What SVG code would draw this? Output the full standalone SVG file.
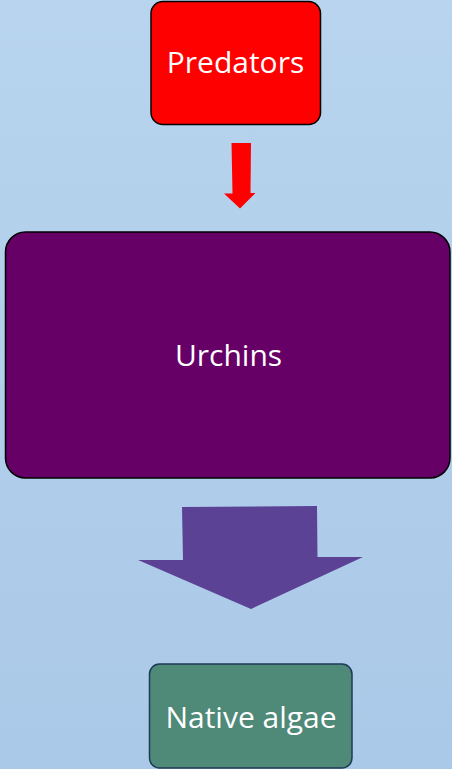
<svg xmlns="http://www.w3.org/2000/svg" width="452" height="769" viewBox="0 0 452 769">
<defs>
<linearGradient id="bg" x1="0" y1="0" x2="0" y2="1">
<stop offset="0" stop-color="#b8d4ee"/>
<stop offset="1" stop-color="#aac9e8"/>
</linearGradient>
</defs>
<style>
.lbl{font-family:"Open Sans","Noto Sans","Liberation Sans",sans-serif;font-size:30px;fill:#ffffff;text-anchor:middle;dominant-baseline:central}
</style>
<rect x="0" y="0" width="452" height="769" fill="url(#bg)"/>
<g id="connectors">
<polygon id="arrow1" points="231.5,143 251,143 250.5,193 255.5,193 240,208.5 224,193.5 232.5,193.5" fill="#ff0000"/>
<polygon id="arrow2" points="182,507 317,506 317.5,557 363,557 251,609 138,560 183,560" fill="#5b4295"/>
</g>
<g id="predators">
<rect x="151" y="1.5" width="169.5" height="123" rx="12" fill="#ff0000" stroke="#000" stroke-width="1.5"/>
<text class="lbl" x="235.5" y="61">Predators</text>
</g>
<g id="urchins">
<rect x="5.5" y="232" width="444.5" height="246" rx="20" fill="#660066" stroke="#000" stroke-width="1.5"/>
<text class="lbl" x="228.5" y="354">Urchins</text>
</g>
<g id="algae">
<rect x="149.5" y="664" width="202.5" height="104" rx="10" fill="#4f8978" stroke="#1f3a58" stroke-width="1.5"/>
<text class="lbl" x="251" y="716">Native algae</text>
</g>
</svg>
